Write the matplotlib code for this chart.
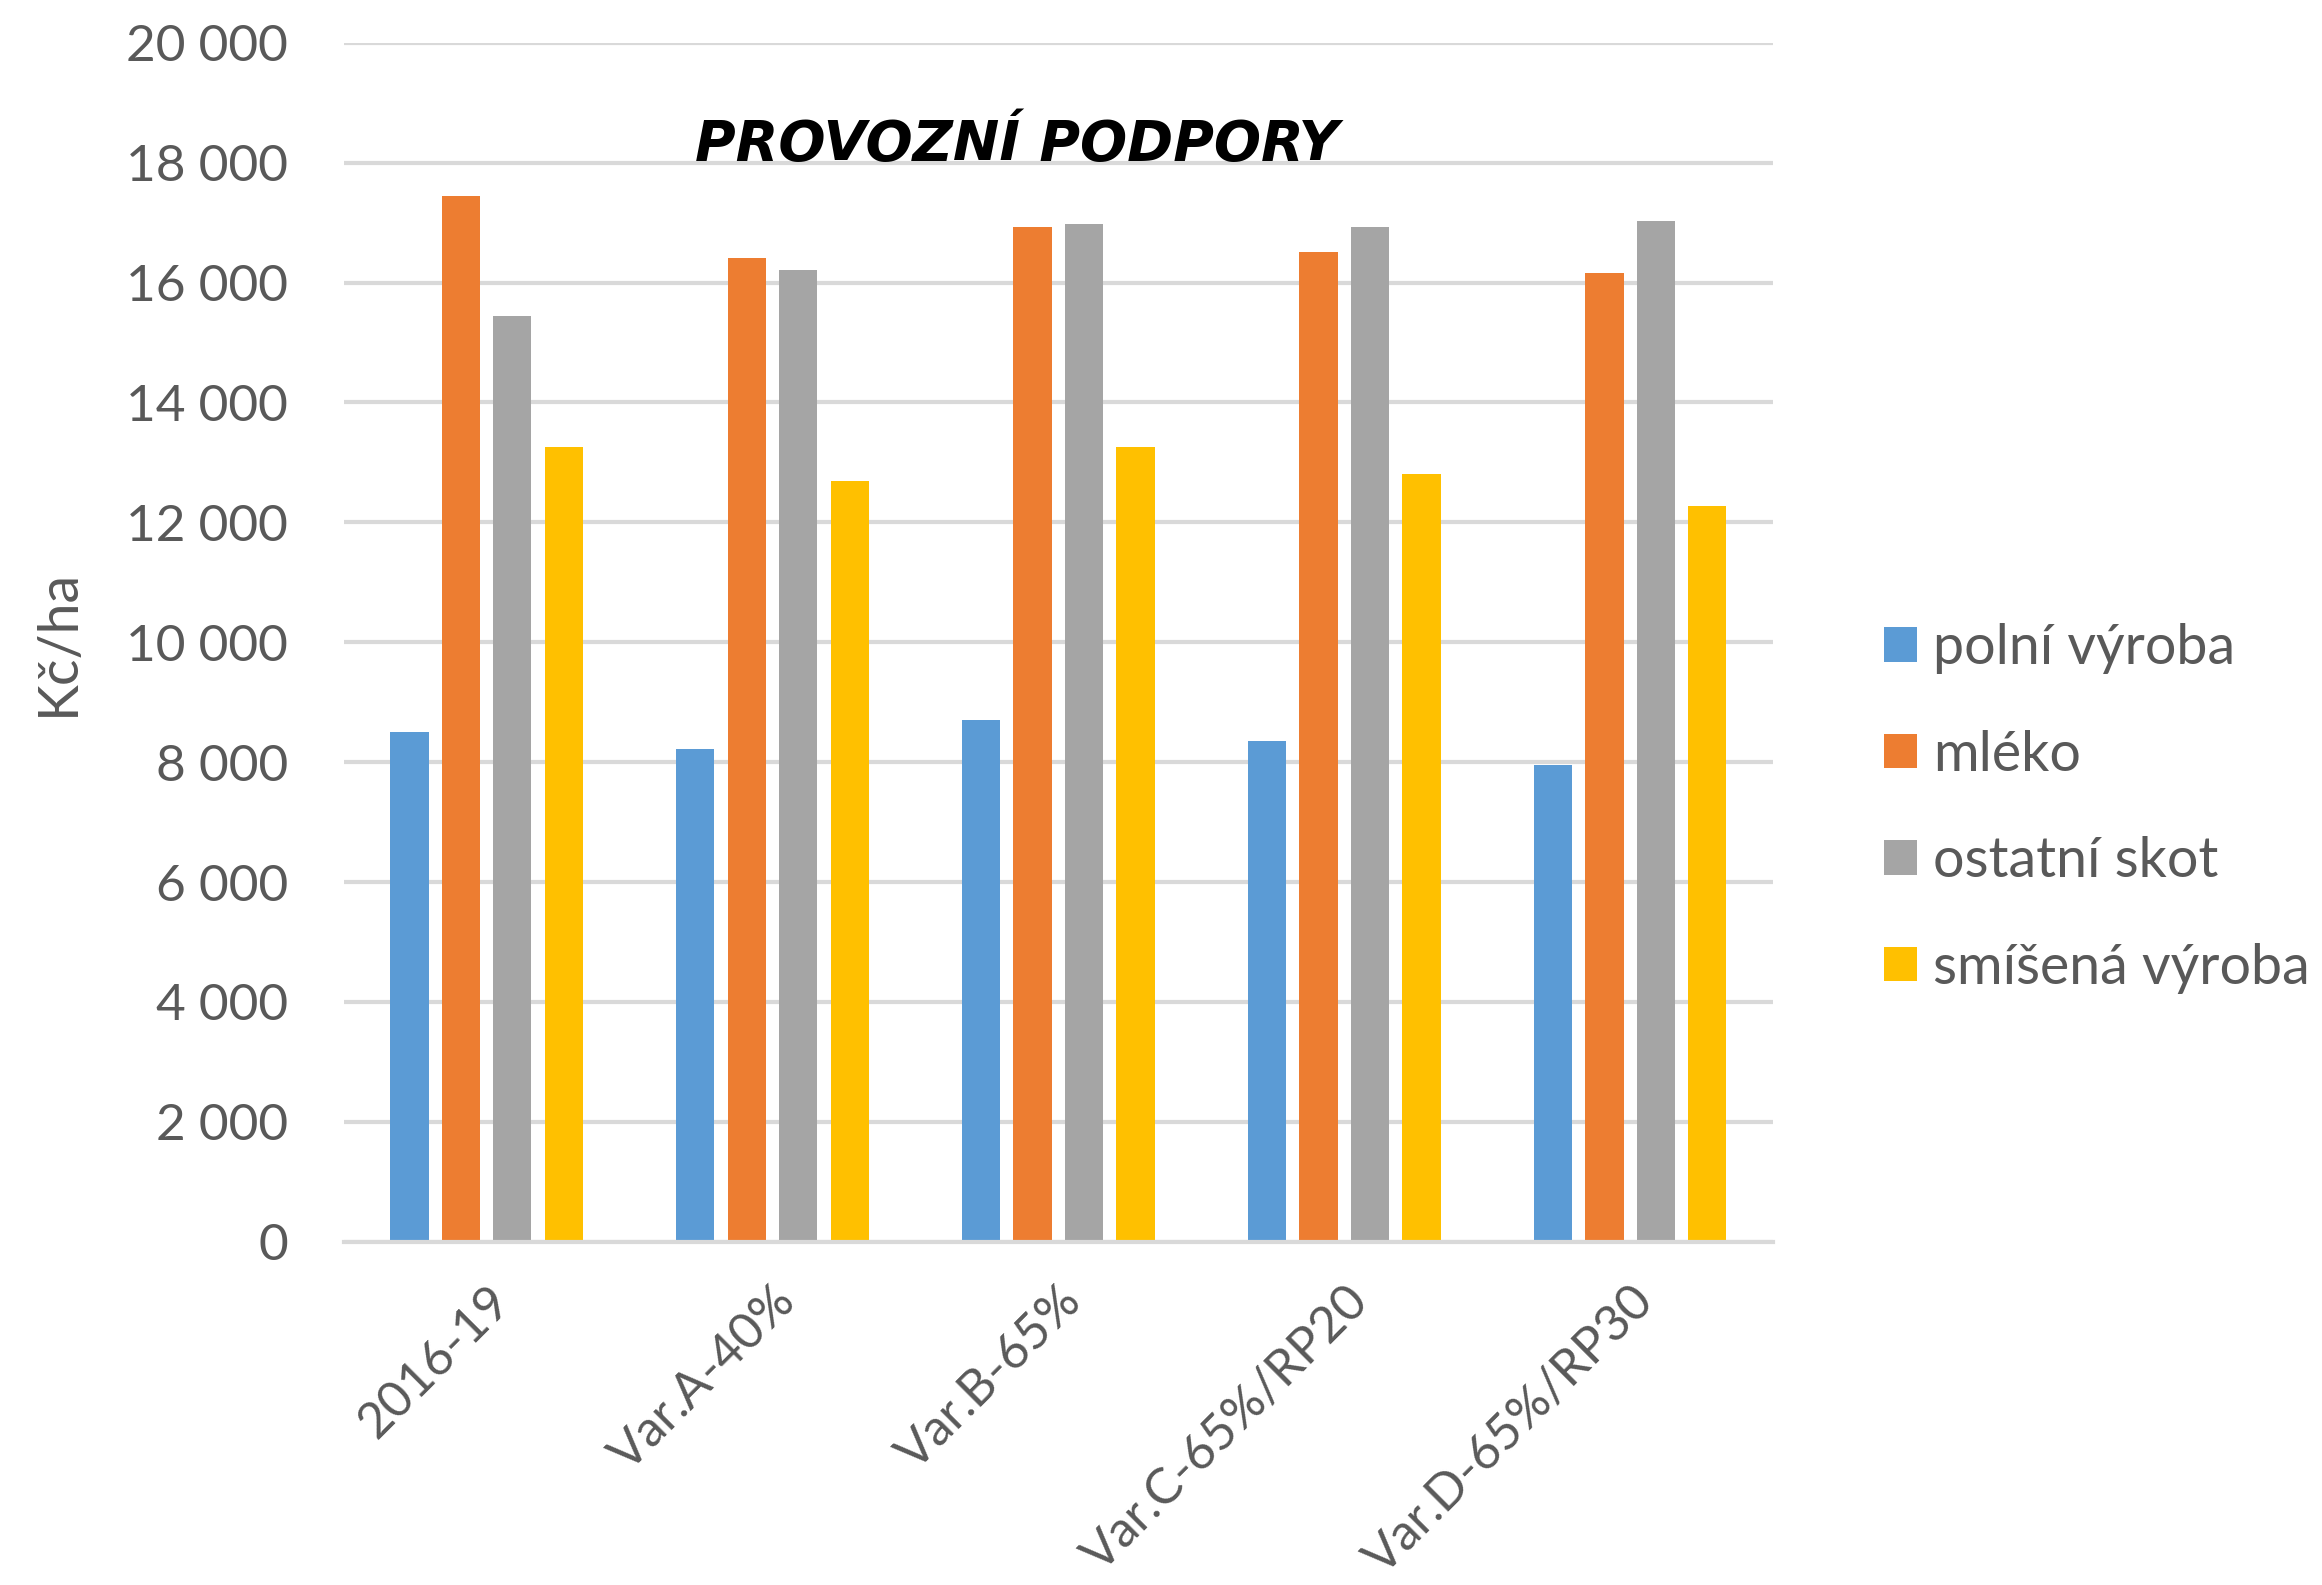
import numpy as np
import matplotlib
matplotlib.use("Agg")
import matplotlib.pyplot as plt
from matplotlib.ticker import FuncFormatter

plt.rcParams['font.family'] = ['Lato', 'DejaVu Sans']

# data
categories = ['2016-19', 'Var.A-40%', 'Var.B-65%', 'Var.C-65%/RP20', 'Var.D-65%/RP30']
series_names = ['polní výroba', 'mléko', 'ostatní skot', 'smíšená výroba']
polni_vyroba = [8510, 8220, 8710, 8360, 7950]
mleko = [17440, 16410, 16920, 16510, 16160]
ostatni_skot = [15440, 16210, 16970, 16920, 17030]
smisena_vyroba = [13260, 12690, 13260, 12800, 12280]
colors = ['#5B9BD5', '#ED7D31', '#A5A5A5', '#FFC000']

series = [polni_vyroba, mleko, ostatni_skot, smisena_vyroba]
text_col = '#595959'
grid_col = '#D9D9D9'

fig = plt.figure(figsize=(23.22, 15.85), dpi=100)
ax = fig.add_axes([0.148, 0.2166, 0.6156, 0.7564])

x = np.arange(len(categories)) + 0.5
pitch = 0.18
width = 0.134
for i, (vals, name, col) in enumerate(zip(series, series_names, colors)):
    ax.bar(x + (i - 1.5) * pitch, vals, width=width, color=col, label=name, zorder=3)

ax.set_xlim(0, len(categories))
ax.set_ylim(0, 20000)
ax.set_yticks(np.arange(0, 20001, 2000))
ax.yaxis.set_major_formatter(FuncFormatter(lambda v, p: f"{v:,.0f}".replace(",", " ")))
ax.grid(axis='y', color=grid_col, linewidth=3, zorder=0)
ax.set_axisbelow(True)
for s in ['top', 'right', 'left']:
    ax.spines[s].set_visible(False)
ax.spines['bottom'].set_color(grid_col)
ax.spines['bottom'].set_linewidth(3)
ax.spines['bottom'].set_zorder(4)

ax.tick_params(axis='y', length=0, pad=40, labelsize=37, labelcolor=text_col)
ax.tick_params(axis='x', length=0, pad=26, labelsize=36, labelcolor=text_col)
ax.set_xticks(x)
ax.set_xticklabels(categories, rotation=45, ha='right', rotation_mode='anchor')

ax.set_ylabel('Kč/ha', fontsize=40, color=text_col)
ax.yaxis.set_label_coords(-0.182, 0.5)

ax.text(0.471, 0.915, 'PROVOZNÍ PODPORY', transform=ax.transAxes, ha='center', va='center',
        fontsize=40, fontweight='bold', fontstyle='italic', color='black',
        family=['DejaVu Sans'])

fig.legend(loc='center left', bbox_to_anchor=(0.79, 0.49), frameon=False, fontsize=40,
           labelcolor=text_col, handlelength=0.58, handleheight=0.58, handletextpad=0.3,
           labelspacing=1.0)

fig.savefig('out.png', dpi=100)
